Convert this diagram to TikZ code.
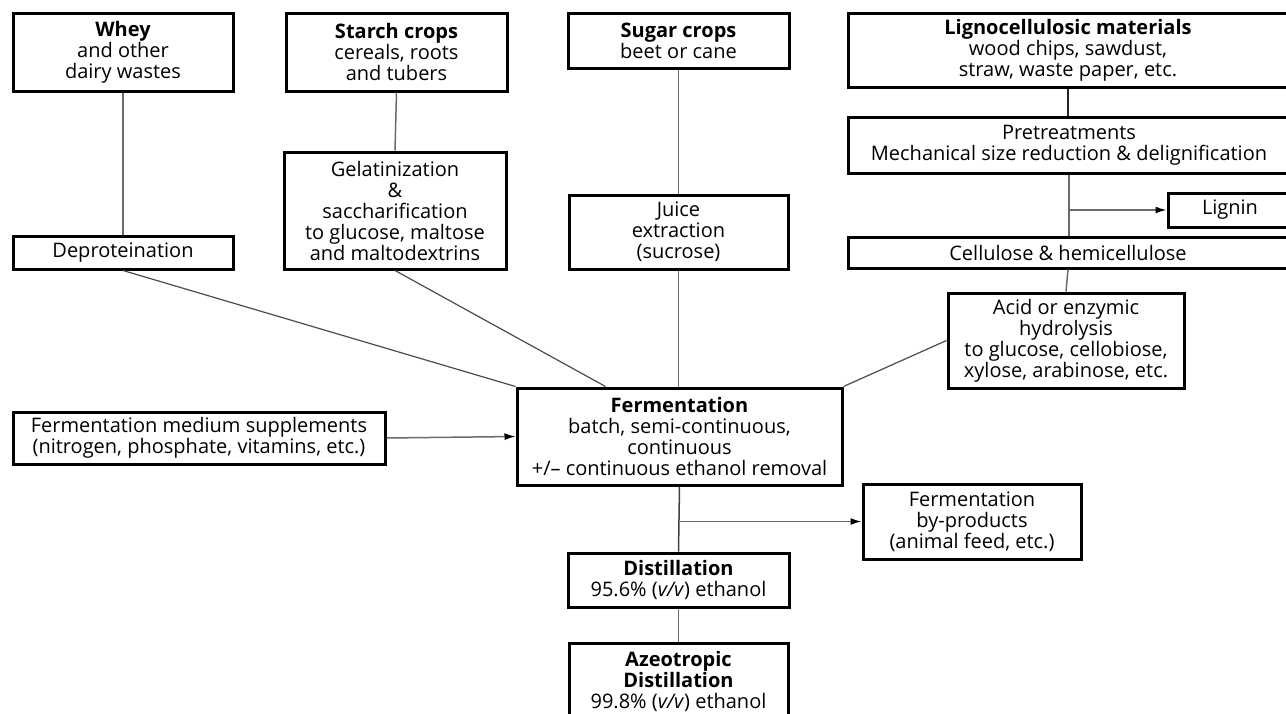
\documentclass[tikz,border=0pt]{standalone}
\usepackage{fontspec}
\setmainfont{Open Sans}
\usetikzlibrary{arrows.meta}
\begin{document}
\begin{tikzpicture}[x=1pt,y=-1pt,
  box/.style={draw=black, line width=3pt, inner sep=0pt, align=center,
    font=\fontsize{20}{21}\selectfont, text=black, fill=white},
  link/.style={draw=black!58, line width=1.5pt},
  arr/.style={link, -{Latex[length=11pt,width=7pt,color=black]}},
  diag/.style={draw=black!70, line width=1.2pt},
]
\useasboundingbox (0,0) rectangle (1286,713);
\fill[white] (0,0) rectangle (1286,713);

% nodes
\node[box, minimum width=220, minimum height=78] (whey) at (123,52) {\textbf{Whey}\\and other\\dairy wastes};
\node[box, minimum width=221, minimum height=78] (starch) at (396.5,52) {\textbf{Starch crops}\\cereals, roots\\and tubers};
\node[box, minimum width=221, minimum height=55] (sugar) at (678.5,40.5) {\textbf{Sugar crops}\\beet or cane};
\node[box, minimum width=440, minimum height=74] (ligno) at (1068,50) {\textbf{Lignocellulosic materials}\\wood chips, sawdust,\\straw, waste paper, etc.};
\node[box, minimum width=442, minimum height=56] (pret) at (1069,145) {Pretreatments\\Mechanical size reduction \& delignification};
\node[box, minimum width=124, minimum height=34] (lignin) at (1230,210) {Lignin};
\node[box, minimum width=440, minimum height=31] (cell) at (1068,252.5) {Cellulose \& hemicellulose};
\node[box, minimum width=222, minimum height=117] (gel) at (395,210.5) {Gelatinization\\\&\\saccharification\\to glucose, maltose\\and maltodextrins};
\node[box, minimum width=220, minimum height=33] (deprot) at (123,252.5) {Deproteination};
\node[box, minimum width=219, minimum height=74] (juice) at (678.5,232) {Juice\\extraction\\(sucrose)};
\node[box, minimum width=236, minimum height=95] (acid) at (1066,340.5) {Acid or enzymic\\hydrolysis\\to glucose, cellobiose,\\xylose, arabinose, etc.};
\node[box, minimum width=325, minimum height=97] (ferm) at (679.5,436.5) {\textbf{Fermentation}\\batch, semi-continuous,\\continuous\\+/-- continuous ethanol removal};
\node[box, minimum width=372, minimum height=52] (supp) at (199,438) {Fermentation medium supplements\\(nitrogen, phosphate, vitamins, etc.)};
\node[box, minimum width=218, minimum height=75] (byp) at (972,521.5) {Fermentation\\by-products\\(animal feed, etc.)};
\node[box, minimum width=221, minimum height=54] (dist) at (678.5,580) {\textbf{Distillation}\\95.6\% (\textit{v/v}) ethanol};
\node[box, minimum width=219, minimum height=76] (azeo) at (678.5,681) {\textbf{Azeotropic}\\\textbf{Distillation}\\99.8\% (\textit{v/v}) ethanol};

% connectors
\draw[link] (whey.south) -- (deprot.north);
\draw[link] (starch.south) -- (gel.north);
\draw[link] (sugar.south) -- (juice.north);
\draw[link] (juice.south) -- (juice.south |- ferm.north);
\draw[link, draw=black!85] (ligno.south) -- (ligno.south |- pret.north);
\draw[link] (pret.south) -- (pret.south |- cell.north);
\draw[arr] (pret.south |- lignin.west) -- (lignin.west);
\draw[link] (cell.south) -- (acid.north);
\draw[diag] (deprot.south) -- (ferm.north west);
\draw[diag] (gel.south) -- ([xshift=90pt]ferm.north west);
\draw[diag] (acid.west) -- (ferm.north east);
\draw[arr] (supp.east) -- (ferm.west);
\draw[link, draw=black!75] (ferm.south) -- (dist.north);
\draw[arr] (ferm.south |- byp.west) -- (byp.west);
\draw[link] (dist.south) -- (azeo.north);
\end{tikzpicture}
\end{document}
